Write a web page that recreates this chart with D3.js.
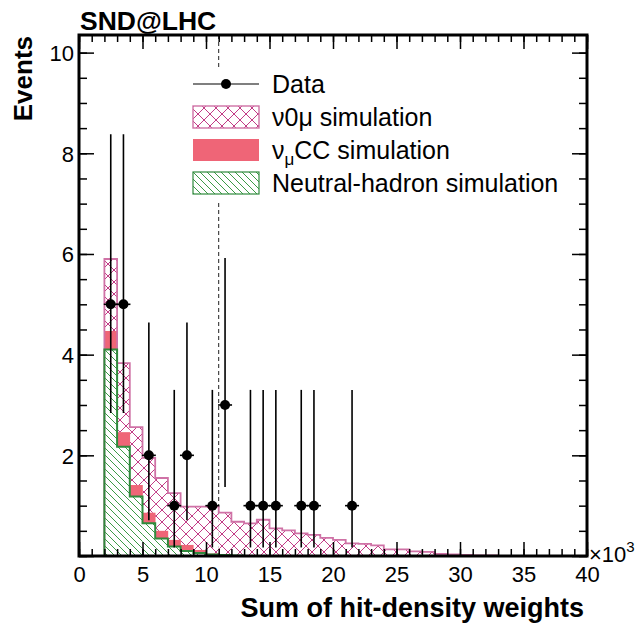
<!DOCTYPE html>
<html>
<head>
<meta charset="utf-8">
<script src="https://cdn.jsdelivr.net/npm/d3@7"></script>
<style>
  html, body { margin: 0; padding: 0; background: #fff; }
  svg { display: block; font-family: "Liberation Sans", Arial, Helvetica, sans-serif; }
</style>
</head>
<body>
<svg id="chart" width="637" height="625"></svg>
<script>
// ---------------- data ----------------
// bins of width 1 (x10^3), from 0 to 40
const binLow = d3.range(0, 40);            // lower edges of the 40 bins
const neutralHadron = [0,0,4.10,2.17,1.18,0.65,0.35,0.19,0.10,0.06,0.03,0.02,0.01,0,0,0,0,0,0,0,0,0,0,0,0,0,0,0,0,0,0,0,0,0,0,0,0,0,0,0];
const numuCC        = [0,0,0.37,0.29,0.23,0.21,0.15,0.13,0.12,0.06,0.02,0.02,0.01,0.01,0,0,0,0,0,0,0,0,0,0,0,0,0,0,0,0,0,0,0,0,0,0,0,0,0,0];
const nu0mu         = [0,0,1.43,1.37,1.15,1.09,1.05,0.93,0.76,0.86,0.93,0.82,0.66,0.64,0.72,0.55,0.51,0.45,0.42,0.36,0.32,0.25,0.24,0.21,0.13,0.13,0.09,0.08,0.04,0.03,0.02,0.01,0.01,0,0,0,0,0,0,0];

const dataX    = [2.5, 3.5, 5.5, 7.5, 8.5, 10.5, 11.5, 13.5, 14.5, 15.5, 17.5, 18.5, 21.5];
const dataY    = [5, 5, 2, 1, 2, 1, 3, 1, 1, 1, 1, 1, 1];
const dataLow  = [2.84, 2.84, 0.71, 0.17, 0.71, 0.17, 1.37, 0.17, 0.17, 0.17, 0.17, 0.17, 0.17];
const dataHigh = [8.38, 8.38, 4.64, 3.30, 4.64, 3.30, 5.92, 3.30, 3.30, 3.30, 3.30, 3.30, 3.30];

const cutValue = 11;

const xMajor = [0, 5, 10, 15, 20, 25, 30, 35, 40];
const xMinor = d3.range(0, 41, 1);
const yMajor = [0, 2, 4, 6, 8, 10];
const yMinor = d3.range(0, 10.3, 0.5);
const yLabels = ["", "2", "4", "6", "8", "10"];

const legendLabels = ["Data", "ν0μ simulation", "νμCC simulation", "Neutral-hadron simulation"];

// ---------------- layout ----------------
const W = 637, H = 625;
const L = 79, R = 587, T = 35, B = 556;
const svg = d3.select("#chart");
const x = d3.scaleLinear().domain([0, 40]).range([L, R]);
const y = d3.scaleLinear().domain([0, 10.35]).range([B, T]);

const colPinkHatch = "#c23c86";
const colPinkLine = "#cf72a6";
const colRed = "#ef6577";
const colGreen = "#3c9a46";
const colGreenLine = "#2f8a3c";
const font = "'Liberation Sans', Arial, Helvetica, sans-serif";

// patterns
const defs = svg.append("defs");
const pPink = defs.append("pattern").attr("id", "pinkHatch").attr("patternUnits", "userSpaceOnUse")
  .attr("width", 12).attr("height", 12);
pPink.append("rect").attr("width", 12).attr("height", 12).attr("fill", "#fff");
pPink.append("path").attr("d", "M0,0L12,12M12,0L0,12M-1,1L1,-1M11,13L13,11M-1,11L1,13M11,-1L13,1")
  .attr("stroke", colPinkHatch).attr("stroke-width", 1).attr("fill", "none");
const pGreen = defs.append("pattern").attr("id", "greenHatch").attr("patternUnits", "userSpaceOnUse")
  .attr("width", 7).attr("height", 7);
pGreen.append("rect").attr("width", 7).attr("height", 7).attr("fill", "#fff");
pGreen.append("path").attr("d", "M0,0L7,7M-1,6L1,8M6,-1L8,1")
  .attr("stroke", colGreen).attr("stroke-width", 1).attr("fill", "none");

// stacked layers
const bins = binLow.map((lo, i) => {
  const g = neutralHadron[i];
  const r = g + numuCC[i];
  const t = r + nu0mu[i];
  return { lo, hi: lo + 1, g, r, t };
});

const plot = svg.append("g");
plot.append("rect").attr("x", L).attr("y", T).attr("width", R - L).attr("height", B - T).attr("fill", "#fff");

// dashed cut line
plot.append("line")
  .attr("x1", x(cutValue)).attr("x2", x(cutValue)).attr("y1", T).attr("y2", B)
  .attr("stroke", "#222").attr("stroke-width", 1).attr("stroke-dasharray", "4,3");

// pink band
plot.selectAll("rect.pink").data(bins.filter(d => d.t > d.r)).join("rect")
  .attr("class", "pink")
  .attr("x", d => x(d.lo)).attr("width", d => x(d.hi) - x(d.lo))
  .attr("y", d => y(d.t)).attr("height", d => y(d.r) - y(d.t))
  .attr("fill", "url(#pinkHatch)");
// red band
plot.selectAll("rect.red").data(bins.filter(d => d.r > d.g)).join("rect")
  .attr("class", "red")
  .attr("x", d => x(d.lo)).attr("width", d => x(d.hi) - x(d.lo) + 0.3)
  .attr("y", d => y(d.r)).attr("height", d => y(d.g) - y(d.r))
  .attr("fill", colRed);
// green band
plot.selectAll("rect.green").data(bins.filter(d => d.g > 0)).join("rect")
  .attr("class", "green")
  .attr("x", d => x(d.lo)).attr("width", d => x(d.hi) - x(d.lo))
  .attr("y", d => y(d.g)).attr("height", d => y(0) - y(d.g))
  .attr("fill", "url(#greenHatch)");

function stepPoints(key) {
  const pts = [];
  bins.forEach(d => { pts.push([d.lo, d[key]]); pts.push([d.hi, d[key]]); });
  return pts;
}
const stepLine = d3.line().x(p => x(p[0])).y(p => y(p[1]));
plot.append("path").attr("d", stepLine(stepPoints("t")))
  .attr("fill", "none").attr("stroke", colPinkLine).attr("stroke-width", 1.8);
plot.append("path").attr("d", stepLine(stepPoints("g")))
  .attr("fill", "none").attr("stroke", colGreenLine).attr("stroke-width", 2);

// ---------------- legend ----------------
const lg = svg.append("g");
lg.append("rect").attr("x", 188).attr("y", 67).attr("width", 380).attr("height", 133).attr("fill", "#fff");
const rowY = [84, 117, 150, 183];
const boxX0 = 193, boxX1 = 259, boxH = 22;
lg.append("line").attr("x1", boxX0).attr("x2", boxX1).attr("y1", rowY[0]).attr("y2", rowY[0])
  .attr("stroke", "#000").attr("stroke-width", 1.2);
lg.append("circle").attr("cx", (boxX0 + boxX1) / 2).attr("cy", rowY[0]).attr("r", 5).attr("fill", "#000");
lg.append("rect").attr("x", boxX0).attr("y", rowY[1] - boxH / 2).attr("width", boxX1 - boxX0).attr("height", boxH)
  .attr("fill", "url(#pinkHatch)").attr("stroke", colPinkLine).attr("stroke-width", 1.4);
lg.append("rect").attr("x", boxX0).attr("y", rowY[2] - boxH / 2).attr("width", boxX1 - boxX0).attr("height", boxH)
  .attr("fill", colRed);
lg.append("rect").attr("x", boxX0).attr("y", rowY[3] - boxH / 2).attr("width", boxX1 - boxX0).attr("height", boxH)
  .attr("fill", "url(#greenHatch)").attr("stroke", colGreenLine).attr("stroke-width", 1.2);

const legFont = 25;
const txtX = 272;
lg.append("text").attr("x", txtX).attr("y", rowY[0] + 9).attr("font-size", legFont).text(legendLabels[0]);
lg.append("text").attr("x", txtX).attr("y", rowY[1] + 9).attr("font-size", legFont).text(legendLabels[1]);
const t2 = lg.append("text").attr("x", txtX).attr("y", rowY[2] + 9).attr("font-size", legFont);
t2.append("tspan").text(legendLabels[2].slice(0, 1));
t2.append("tspan").attr("font-size", 17).attr("dy", 6).text(legendLabels[2].slice(1, 2));
t2.append("tspan").attr("dy", -6).text(legendLabels[2].slice(2));
lg.append("text").attr("x", txtX).attr("y", rowY[3] + 9).attr("font-size", legFont).text(legendLabels[3]);

// ---------------- data points ----------------
const dg = svg.append("g");
dataX.forEach((dx, i) => {
  dg.append("line").attr("x1", x(dx)).attr("x2", x(dx)).attr("y1", y(dataLow[i])).attr("y2", y(dataHigh[i]))
    .attr("stroke", "#000").attr("stroke-width", 1.6);
  dg.append("line").attr("x1", x(dx) - 7).attr("x2", x(dx) + 7).attr("y1", y(dataY[i])).attr("y2", y(dataY[i]))
    .attr("stroke", "#000").attr("stroke-width", 1.6);
  dg.append("circle").attr("cx", x(dx)).attr("cy", y(dataY[i])).attr("r", 5).attr("fill", "#000");
});

// ---------------- axes ----------------
const axFont = 22;
function styleAxis(g) { g.select(".domain").remove(); g.selectAll("line").attr("stroke", "#000").attr("stroke-width", 1.5); }

// bottom major w/ labels
const xb = svg.append("g").attr("transform", `translate(0,${B})`)
  .call(d3.axisBottom(x).tickValues(xMajor).tickSizeInner(-14).tickSizeOuter(0).tickPadding(8).tickFormat(d3.format("d")));
styleAxis(xb);
xb.selectAll("text").attr("font-size", axFont).attr("font-family", font).attr("fill", "#000").attr("y", 26).attr("dy", 0);
svg.append("g").attr("transform", `translate(0,${B})`)
  .call(d3.axisBottom(x).tickValues(xMinor).tickSizeInner(-7).tickSizeOuter(0).tickFormat(""))
  .call(styleAxis);
// top
svg.append("g").attr("transform", `translate(0,${T})`)
  .call(d3.axisTop(x).tickValues(xMajor).tickSizeInner(-14).tickSizeOuter(0).tickFormat(""))
  .call(styleAxis);
svg.append("g").attr("transform", `translate(0,${T})`)
  .call(d3.axisTop(x).tickValues(xMinor).tickSizeInner(-7).tickSizeOuter(0).tickFormat(""))
  .call(styleAxis);
// left
const yl = svg.append("g").attr("transform", `translate(${L},0)`)
  .call(d3.axisLeft(y).tickValues(yMajor).tickSizeInner(-15).tickSizeOuter(0).tickPadding(6)
    .tickFormat((d, i) => yLabels[i]));
styleAxis(yl);
yl.selectAll("text").attr("font-size", axFont).attr("font-family", font).attr("fill", "#000").attr("x", -5).attr("dy", "0.36em");
svg.append("g").attr("transform", `translate(${L},0)`)
  .call(d3.axisLeft(y).tickValues(yMinor).tickSizeInner(-8).tickSizeOuter(0).tickFormat(""))
  .call(styleAxis);
// right
svg.append("g").attr("transform", `translate(${R},0)`)
  .call(d3.axisRight(y).tickValues(yMajor).tickSizeInner(-15).tickSizeOuter(0).tickFormat(""))
  .call(styleAxis);
svg.append("g").attr("transform", `translate(${R},0)`)
  .call(d3.axisRight(y).tickValues(yMinor).tickSizeInner(-8).tickSizeOuter(0).tickFormat(""))
  .call(styleAxis);

// frame
svg.append("rect").attr("x", L).attr("y", T).attr("width", R - L).attr("height", B - T)
  .attr("fill", "none").attr("stroke", "#000").attr("stroke-width", 3);

// ---------------- titles ----------------
svg.append("text").attr("x", 80).attr("y", 30).attr("font-size", 26.5).attr("font-weight", "bold").text("SND@LHC");
svg.append("text").attr("transform", `translate(32,${T + 1}) rotate(-90)`).attr("text-anchor", "end")
  .attr("font-size", 26).attr("font-weight", "bold").text("Events");
svg.append("text").attr("x", 584).attr("y", 617).attr("text-anchor", "end")
  .attr("font-size", 27).attr("font-weight", "bold").text("Sum of hit-density weights");
const mult = svg.append("text").attr("x", 589).attr("y", 562).attr("font-size", 22);
mult.append("tspan").text("×10");
mult.append("tspan").attr("font-size", 15).attr("dy", -10).text("3");
</script>
</body>
</html>
